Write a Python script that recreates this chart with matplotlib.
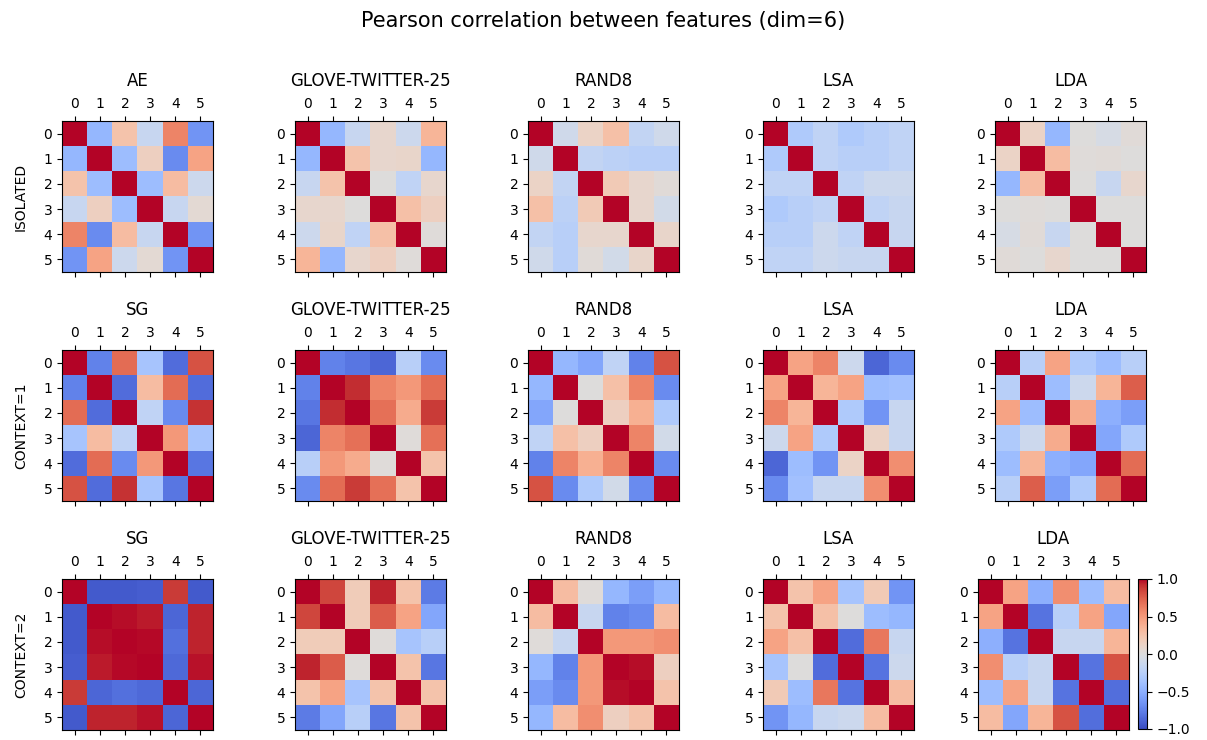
"""
Pearson correlation between learned features, 3 settings x 5 models
"""
import matplotlib
matplotlib.use('Agg')
import matplotlib.pyplot as plt
import numpy as np

models = ['AE', 'GLOVE-TWITTER-25', 'RAND8', 'LSA', 'LDA']
models_ctx = ['SG', 'GLOVE-TWITTER-25', 'RAND8', 'LSA', 'LDA']
settings = ['ISOLATED', 'CONTEXT=1', 'CONTEXT=2']
ticks = [0, 1, 2, 3, 4, 5]

# ---- ISOLATED
iso_ae = [[1, -0.45, 0.25, -0.15, 0.6, -0.65],
          [-0.45, 1, -0.4, 0.15, -0.7, 0.45],
          [0.25, -0.4, 1, -0.4, 0.3, -0.12],
          [-0.15, 0.15, -0.4, 1, -0.15, 0.05],
          [0.6, -0.7, 0.3, -0.15, 1, -0.65],
          [-0.65, 0.45, -0.12, 0.05, -0.65, 1]]
iso_glove = [[1, -0.45, -0.15, 0.08, -0.12, 0.35],
             [-0.45, 1, 0.25, 0.08, 0.1, -0.45],
             [-0.15, 0.25, 1, 0.0, -0.2, 0.08],
             [0.08, 0.08, 0.0, 1, 0.28, 0.15],
             [-0.12, 0.1, -0.2, 0.28, 1, 0.02],
             [0.35, -0.45, 0.08, 0.15, 0.02, 1]]
iso_rand = [[1, -0.1, 0.12, 0.28, -0.18, -0.1],
            [-0.1, 1, -0.18, -0.22, -0.25, -0.25],
            [0.12, -0.18, 1, 0.2, 0.08, 0.03],
            [0.28, -0.22, 0.2, 1, 0.08, -0.08],
            [-0.18, -0.25, 0.08, 0.08, 1, 0.1],
            [-0.1, -0.25, 0.03, -0.08, 0.1, 1]]
iso_lsa = [[1, -0.3, -0.2, -0.3, -0.25, -0.2],
           [-0.3, 1, -0.2, -0.25, -0.25, -0.2],
           [-0.2, -0.2, 1, -0.2, -0.12, -0.12],
           [-0.3, -0.25, -0.2, 1, -0.2, -0.15],
           [-0.25, -0.25, -0.12, -0.2, 1, -0.15],
           [-0.2, -0.2, -0.12, -0.15, -0.15, 1]]
iso_lda = [[1, 0.12, -0.45, 0.0, -0.05, 0.03],
           [0.12, 1, 0.3, 0.02, 0.03, 0.0],
           [-0.45, 0.3, 1, 0.0, -0.15, 0.08],
           [0.0, 0.02, 0.0, 1, 0.0, 0.0],
           [-0.05, 0.03, -0.15, 0.0, 1, 0.0],
           [0.03, 0.0, 0.08, 0.0, 0.0, 1]]

# ---- CONTEXT=1
c1_sg = [[1, -0.75, 0.7, -0.35, -0.85, 0.8],
         [-0.75, 1, -0.85, 0.3, 0.7, -0.85],
         [0.7, -0.85, 1, -0.2, -0.7, 0.9],
         [-0.35, 0.3, -0.2, 1, 0.5, -0.35],
         [-0.85, 0.7, -0.7, 0.5, 1, -0.8],
         [0.8, -0.85, 0.9, -0.35, -0.8, 1]]
c1_glove = [[1, -0.75, -0.8, -0.88, -0.25, -0.7],
            [-0.75, 1, 0.92, 0.6, 0.5, 0.7],
            [-0.8, 0.92, 1, 0.68, 0.4, 0.88],
            [-0.88, 0.6, 0.68, 1, 0.02, 0.68],
            [-0.25, 0.5, 0.4, 0.02, 1, 0.25],
            [-0.7, 0.7, 0.88, 0.68, 0.25, 1]]
c1_rand = [[1, -0.45, -0.55, -0.2, -0.75, 0.8],
           [-0.45, 1, 0.0, 0.28, 0.6, -0.7],
           [-0.55, 0.0, 1, 0.15, 0.38, -0.3],
           [-0.2, 0.28, 0.15, 1, 0.6, -0.08],
           [-0.75, 0.6, 0.38, 0.6, 1, -0.7],
           [0.8, -0.7, -0.3, -0.08, -0.7, 1]]
c1_lsa = [[1, 0.45, 0.6, -0.12, -0.88, -0.7],
          [0.45, 1, 0.35, 0.45, -0.4, -0.38],
          [0.6, 0.35, 1, -0.3, -0.65, -0.15],
          [-0.12, 0.45, -0.3, 1, 0.12, -0.15],
          [-0.88, -0.4, -0.65, 0.12, 1, 0.55],
          [-0.7, -0.38, -0.15, -0.15, 0.55, 1]]
c1_lda = [[1, -0.25, 0.45, -0.3, -0.4, -0.25],
          [-0.25, 1, -0.4, -0.12, 0.35, 0.75],
          [0.45, -0.4, 1, 0.4, -0.5, -0.6],
          [-0.3, -0.12, 0.4, 1, -0.55, -0.3],
          [-0.4, 0.35, -0.5, -0.55, 1, 0.7],
          [-0.25, 0.75, -0.6, -0.3, 0.7, 1]]

# ---- CONTEXT=2
c2_sg = [[1, -0.93, -0.93, -0.92, 0.88, -0.93],
         [-0.93, 1, 0.98, 0.96, -0.88, 0.94],
         [-0.93, 0.98, 1, 0.99, -0.83, 0.94],
         [-0.92, 0.96, 0.99, 1, -0.86, 0.97],
         [0.88, -0.88, -0.83, -0.86, 1, -0.88],
         [-0.93, 0.94, 0.94, 0.97, -0.88, 1]]
c2_glove = [[1, 0.84, 0.18, 0.94, 0.25, -0.78],
            [0.84, 1, 0.18, 0.76, 0.45, -0.55],
            [0.18, 0.18, 1, 0.02, -0.35, -0.25],
            [0.94, 0.76, 0.02, 1, 0.25, -0.8],
            [0.25, 0.45, -0.35, 0.25, 1, 0.25],
            [-0.78, -0.55, -0.25, -0.8, 0.25, 1]]
c2_rand = [[1, 0.3, 0.02, -0.45, -0.6, -0.45],
           [0.3, 1, -0.15, -0.75, -0.7, 0.3],
           [0.02, -0.15, 1, 0.5, 0.5, 0.55],
           [-0.45, -0.75, 0.5, 1, 0.98, 0.15],
           [-0.6, -0.7, 0.5, 0.98, 1, 0.25],
           [-0.45, 0.3, 0.55, 0.15, 0.25, 1]]
c2_lsa = [[1, 0.25, 0.45, -0.35, 0.2, -0.65],
          [0.25, 1, 0.28, 0.0, -0.4, -0.45],
          [0.45, 0.28, 1, -0.85, 0.65, -0.15],
          [-0.35, 0.0, -0.85, 1, -0.82, -0.12],
          [0.2, -0.4, 0.65, -0.82, 1, 0.3],
          [-0.65, -0.45, -0.15, -0.12, 0.3, 1]]
c2_lda = [[1, 0.45, -0.5, 0.55, -0.4, 0.3],
          [0.45, 1, -0.82, -0.25, 0.45, -0.55],
          [-0.5, -0.82, 1, -0.15, -0.15, 0.35],
          [0.55, -0.25, -0.15, 1, -0.82, 0.8],
          [-0.4, 0.45, -0.15, -0.82, 1, -0.84],
          [0.3, -0.55, 0.35, 0.8, -0.84, 1]]

grid = [[iso_ae, iso_glove, iso_rand, iso_lsa, iso_lda],
        [c1_sg, c1_glove, c1_rand, c1_lsa, c1_lda],
        [c2_sg, c2_glove, c2_rand, c2_lsa, c2_lda]]
names = [models, models_ctx, models_ctx]

W, H = 1207, 740
fig = plt.figure(figsize=(W / 100, H / 100), dpi=100)
fig.suptitle('Pearson correlation between features (dim=6)', y=0.985, fontsize=15)

lefts = [62, 295, 528, 763, 995]
tops = [121, 350, 579]
size = 151

for r in range(3):
    for c in range(5):
        x0 = lefts[c]
        if r == 2 and c == 4:
            x0 = 978
        ax = fig.add_axes([x0 / W, 1 - (tops[r] + size) / H, size / W, size / H])
        im = ax.matshow(np.array(grid[r][c]), cmap='coolwarm', vmin=-1, vmax=1)
        ax.set_xticks(ticks)
        ax.set_yticks(ticks)
        ax.set_title(names[r][c], fontsize=12, pad=8)
        if c == 0:
            ax.set_ylabel(settings[r], fontsize=10, labelpad=11)

cax = fig.add_axes([1138 / W, 1 - (579 + 150) / H, 8.5 / W, 150 / H])
cb = fig.colorbar(im, cax=cax, ticks=[-1, -0.5, 0, 0.5, 1])

plt.savefig('out.png', dpi=100)
